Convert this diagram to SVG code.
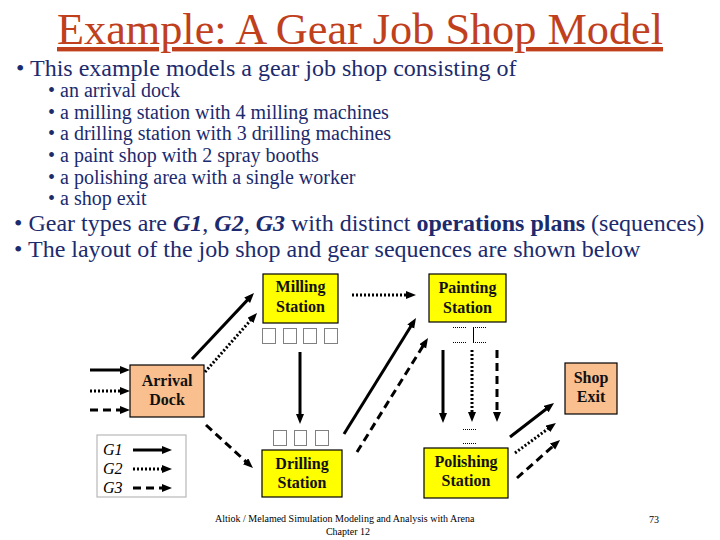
<svg xmlns="http://www.w3.org/2000/svg" width="720" height="540" viewBox="0 0 720 540" font-family="'Liberation Serif', 'DejaVu Serif', serif">
<style>
text{font-family:'Liberation Serif','DejaVu Serif',serif}
.title{font-size:44px;fill:#c0401d;text-decoration:underline}
.b1{font-size:24px;fill:#1c2a6e}
.b2{font-size:20px;fill:#1c2a6e}
.bold{font-weight:bold;font-style:italic}
.bd{font-weight:bold}
.box{stroke:#000;stroke-width:1.2}
.yel{fill:#ffff00}
.peach{fill:#f9bf8f}
.lbl{font-size:16px;font-weight:bold;fill:#111;text-anchor:middle}
.mach{fill:none;stroke:#000;stroke-width:1;stroke-dasharray:1,1}
.dl{fill:none;stroke:#000;stroke-width:1;stroke-dasharray:1,1}
.s{stroke:#000;stroke-width:3;fill:none}
.d{stroke:#000;stroke-width:3;fill:none;stroke-dasharray:2,2}
.k{stroke:#000;stroke-width:3;fill:none;stroke-dasharray:8,5}
.foot{font-size:10px;fill:#000}
.leg{font-size:16px;font-style:italic;fill:#000}
</style>
<defs>
<marker id="ah" markerUnits="userSpaceOnUse" markerWidth="11" markerHeight="9" refX="3" refY="4" orient="auto">
<path d="M0,0 L10,4 L0,8 z" fill="#000"/>
</marker>
</defs>
<rect width="720" height="540" fill="#fff"/>

<g id="text">
<text class="title" x="57" y="44" textLength="606" lengthAdjust="spacingAndGlyphs">Example: A Gear Job Shop Model</text>
<text class="b1" x="16" y="76">• This example models a gear job shop consisting of</text>
<text class="b2" x="48" y="97">• an arrival dock</text>
<text class="b2" x="48" y="119">• a milling station with 4 milling machines</text>
<text class="b2" x="48" y="140">• a drilling station with 3 drilling machines</text>
<text class="b2" x="48" y="162">• a paint shop with 2 spray booths</text>
<text class="b2" x="48" y="184">• a polishing area with a single worker</text>
<text class="b2" x="48" y="205">• a shop exit</text>
<text class="b1" x="14" y="231">• Gear types are <tspan class="bold">G1</tspan>, <tspan class="bold">G2</tspan>, <tspan class="bold">G3</tspan> with distinct <tspan class="bd">operations plans</tspan> (sequences)</text>
<text class="b1" x="14" y="257">• The layout of the job shop and gear sequences are shown below</text>
</g>

<g id="milling">
<rect class="box yel" x="263" y="274" width="75" height="49"/>
<text class="lbl" x="300.5" y="292">Milling</text>
<text class="lbl" x="300.5" y="312">Station</text>
<rect class="mach" x="262.5" y="328.5" width="13" height="15"/>
<rect class="mach" x="283.5" y="328.5" width="13" height="15"/>
<rect class="mach" x="303.5" y="328.5" width="13" height="15"/>
<rect class="mach" x="324.5" y="328.5" width="13" height="15"/>
</g>

<g id="painting">
<rect class="box yel" x="429" y="274" width="77" height="48"/>
<text class="lbl" x="467.5" y="293">Painting</text>
<text class="lbl" x="467.5" y="313">Station</text>
<line class="dl" x1="453" y1="327.5" x2="466" y2="327.5"/>
<line class="dl" x1="453" y1="342.5" x2="466" y2="342.5"/>
<line class="dl" x1="473" y1="327.5" x2="487" y2="327.5"/>
<line class="dl" x1="473" y1="342.5" x2="487" y2="342.5"/>
<line x1="473.5" y1="327" x2="473.5" y2="343" stroke="#000" stroke-width="1"/>
</g>

<g id="arrival">
<rect class="box peach" x="130" y="365" width="74" height="52"/>
<text class="lbl" x="167" y="386">Arrival</text>
<text class="lbl" x="167" y="405">Dock</text>
</g>

<g id="exit">
<rect class="box peach" x="565" y="363" width="52" height="51"/>
<text class="lbl" x="591" y="383">Shop</text>
<text class="lbl" x="591" y="402">Exit</text>
</g>

<g id="drilling">
<rect class="box yel" x="262" y="450" width="80" height="47"/>
<text class="lbl" x="302" y="469">Drilling</text>
<text class="lbl" x="302" y="488">Station</text>
<rect class="mach" x="273.5" y="430.5" width="13" height="15"/>
<rect class="mach" x="294.5" y="430.5" width="12" height="15"/>
<rect class="mach" x="315.5" y="430.5" width="13" height="15"/>
</g>

<g id="polishing">
<rect class="box yel" x="424" y="448" width="84" height="50"/>
<text class="lbl" x="466" y="467">Polishing</text>
<text class="lbl" x="466" y="486">Station</text>
<line class="dl" x1="463" y1="429.5" x2="476" y2="429.5"/>
<line class="dl" x1="463" y1="443.5" x2="476" y2="443.5"/>
</g>

<g id="legend">
<rect x="97" y="435" width="89" height="62" fill="#fff" stroke="#b8b8b8" stroke-width="1.2"/>
<text class="leg" x="103" y="455">G1</text>
<text class="leg" x="103" y="474">G2</text>
<text class="leg" x="103" y="493">G3</text>
<line class="s" x1="133" y1="450" x2="165" y2="450" marker-end="url(#ah)"/>
<line class="d" x1="133" y1="469" x2="165" y2="469" marker-end="url(#ah)"/>
<line class="k" x1="133" y1="488" x2="165" y2="488" marker-end="url(#ah)"/>
</g>

<g id="connectors">
<line class="s" x1="90" y1="370" x2="123" y2="370" marker-end="url(#ah)"/>
<line class="d" x1="90" y1="391" x2="123" y2="391" marker-end="url(#ah)"/>
<line class="k" x1="90" y1="410" x2="123" y2="410" marker-end="url(#ah)"/>
<line class="s" x1="192" y1="359" x2="249.2" y2="298.1" marker-end="url(#ah)"/>
<line class="d" x1="205" y1="372" x2="252.4" y2="318.2" marker-end="url(#ah)"/>
<line class="k" x1="206" y1="425" x2="247.8" y2="463.3" marker-end="url(#ah)"/>
<line class="s" x1="300" y1="352" x2="300" y2="417" marker-end="url(#ah)"/>
<line class="d" x1="352" y1="295" x2="409" y2="295" marker-end="url(#ah)"/>
<line class="s" x1="344" y1="434" x2="412.3" y2="324" marker-end="url(#ah)"/>
<line class="k" x1="357" y1="452" x2="424.3" y2="343.9" marker-end="url(#ah)"/>
<line class="s" x1="443" y1="350" x2="443" y2="416" marker-end="url(#ah)"/>
<line class="d" x1="472" y1="350" x2="472" y2="415" marker-end="url(#ah)"/>
<line class="k" x1="497" y1="350" x2="497" y2="415" marker-end="url(#ah)"/>
<line class="s" x1="510" y1="437" x2="548.5" y2="407.3" marker-end="url(#ah)"/>
<line class="d" x1="515" y1="453" x2="550.3" y2="427.1" marker-end="url(#ah)"/>
<line class="k" x1="517" y1="478" x2="554.8" y2="444.6" marker-end="url(#ah)"/>
</g>

<g id="footer">
<text class="foot" x="215" y="522">Altiok / Melamed    Simulation Modeling and Analysis with Arena</text>
<text class="foot" x="348" y="535" text-anchor="middle">Chapter 12</text>
<text class="foot" x="649" y="523">73</text>
</g>
</svg>
